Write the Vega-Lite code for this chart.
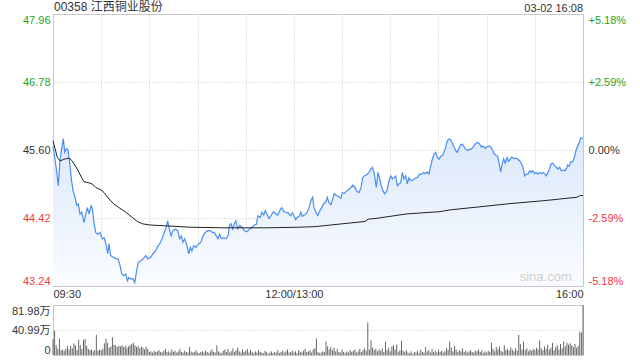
{
  "$schema": "https://vega.github.io/schema/vega-lite/v6.json",
  "padding": {"left": 10, "top": 0, "right": 0, "bottom": 0},
  "background": "white",
  "bounds": "flush",
  "spacing": 19,
  "config": {
    "view": {"stroke": "#c8c8c8"},
    "font": "Liberation Sans",
    "axis": {"domain": false, "ticks": false, "gridColor": "#c8c8c8", "gridDash": [1, 2], "labelFont": "Liberation Sans, Noto Sans CJK SC", "labelFontSize": 11, "title": null}
  },
  "datasets": {
    "price": [
      {"m":0,"p":45.67},{"m":2.1,"p":45.27},{"m":3.3,"p":44.98},{"m":4.4,"p":45.44},{"m":5.4,"p":45.62},{"m":6.4,"p":45.80},{"m":7.3,"p":45.56},{"m":8.3,"p":45.62},{"m":9.3,"p":45.61},{"m":10.4,"p":45.38},{"m":11.4,"p":45.10},{"m":12.5,"p":44.89},{"m":13.7,"p":44.78},{"m":14.8,"p":44.64},{"m":15.8,"p":44.66},{"m":16.8,"p":44.49},{"m":17.9,"p":44.52},{"m":19.3,"p":44.34},{"m":20.4,"p":44.49},{"m":21.4,"p":44.60},{"m":22.4,"p":44.49},{"m":23.7,"p":44.63},{"m":24.5,"p":44.58},{"m":25.5,"p":44.34},{"m":26.6,"p":44.17},{"m":28.0,"p":44.14},{"m":29.3,"p":44.17},{"m":30.7,"p":44.06},{"m":31.8,"p":44.08},{"m":33.2,"p":43.94},{"m":34.1,"p":43.80},{"m":34.9,"p":43.97},{"m":35.9,"p":43.77},{"m":37.4,"p":43.74},{"m":39.0,"p":43.72},{"m":40.5,"p":43.71},{"m":41.7,"p":43.60},{"m":42.8,"p":43.45},{"m":44.2,"p":43.42},{"m":45.3,"p":43.45},{"m":46.3,"p":43.33},{"m":47.3,"p":43.39},{"m":48.4,"p":43.36},{"m":49.8,"p":43.37},{"m":50.9,"p":43.30},{"m":51.9,"p":43.48},{"m":53.1,"p":43.65},{"m":54.6,"p":43.68},{"m":56.2,"p":43.71},{"m":57.7,"p":43.77},{"m":59.1,"p":43.71},{"m":60.8,"p":43.74},{"m":62.3,"p":43.80},{"m":63.9,"p":43.85},{"m":65.4,"p":43.94},{"m":66.4,"p":43.97},{"m":67.9,"p":44.06},{"m":69.3,"p":44.17},{"m":70.5,"p":44.26},{"m":71.4,"p":44.37},{"m":72.4,"p":44.23},{"m":73.5,"p":44.11},{"m":74.7,"p":44.20},{"m":76.1,"p":44.23},{"m":77.6,"p":44.20},{"m":78.9,"p":44.06},{"m":79.9,"p":44.11},{"m":80.9,"p":44.00},{"m":82.0,"p":44.06},{"m":83.4,"p":43.94},{"m":84.5,"p":43.80},{"m":85.5,"p":43.91},{"m":86.5,"p":43.85},{"m":87.6,"p":43.94},{"m":89.0,"p":43.91},{"m":90.7,"p":43.97},{"m":92.1,"p":44.00},{"m":93.4,"p":44.11},{"m":94.8,"p":44.17},{"m":96.3,"p":44.20},{"m":97.9,"p":44.20},{"m":99.0,"p":44.17},{"m":100.4,"p":44.17},{"m":101.7,"p":44.11},{"m":102.7,"p":44.06},{"m":103.8,"p":44.14},{"m":104.8,"p":44.06},{"m":106.3,"p":44.08},{"m":107.7,"p":44.06},{"m":109.0,"p":44.11},{"m":109.8,"p":44.29},{"m":110.8,"p":44.32},{"m":111.9,"p":44.23},{"m":112.9,"p":44.32},{"m":113.9,"p":44.37},{"m":115.0,"p":44.23},{"m":116.2,"p":44.29},{"m":117.7,"p":44.26},{"m":119.1,"p":44.20},{"m":120.8,"p":44.18},{"m":122.5,"p":44.23},{"m":123.9,"p":44.26},{"m":125.3,"p":44.30},{"m":126.6,"p":44.31},{"m":127.6,"p":44.46},{"m":129.1,"p":44.43},{"m":130.1,"p":44.52},{"m":131.2,"p":44.47},{"m":132.2,"p":44.55},{"m":133.2,"p":44.49},{"m":134.5,"p":44.41},{"m":135.7,"p":44.46},{"m":137.2,"p":44.53},{"m":138.7,"p":44.49},{"m":139.9,"p":44.47},{"m":141.3,"p":44.55},{"m":142.4,"p":44.60},{"m":143.8,"p":44.53},{"m":144.9,"p":44.52},{"m":146.5,"p":44.51},{"m":148.0,"p":44.46},{"m":149.0,"p":44.51},{"m":150.2,"p":44.45},{"m":151.1,"p":44.39},{"m":152.1,"p":44.43},{"m":153.3,"p":44.45},{"m":154.4,"p":44.52},{"m":155.2,"p":44.45},{"m":156.5,"p":44.47},{"m":158.0,"p":44.51},{"m":159.4,"p":44.60},{"m":160.6,"p":44.72},{"m":161.7,"p":44.78},{"m":162.5,"p":44.60},{"m":163.7,"p":44.52},{"m":164.8,"p":44.46},{"m":166.2,"p":44.55},{"m":167.3,"p":44.60},{"m":168.7,"p":44.68},{"m":169.8,"p":44.69},{"m":170.8,"p":44.78},{"m":171.8,"p":44.69},{"m":173.1,"p":44.65},{"m":174.1,"p":44.75},{"m":175.1,"p":44.84},{"m":176.6,"p":44.81},{"m":178.1,"p":44.79},{"m":179.3,"p":44.76},{"m":180.1,"p":44.86},{"m":181.4,"p":44.85},{"m":182.9,"p":44.89},{"m":184.3,"p":44.92},{"m":185.5,"p":44.95},{"m":186.6,"p":44.99},{"m":188.0,"p":44.95},{"m":189.3,"p":44.88},{"m":190.5,"p":44.86},{"m":191.8,"p":44.95},{"m":192.8,"p":45.12},{"m":193.8,"p":45.15},{"m":195.3,"p":45.17},{"m":196.7,"p":45.21},{"m":198.0,"p":45.27},{"m":198.8,"p":45.30},{"m":199.9,"p":45.21},{"m":201.3,"p":44.95},{"m":202.3,"p":45.21},{"m":203.4,"p":45.10},{"m":204.4,"p":44.98},{"m":205.5,"p":44.89},{"m":206.5,"p":44.84},{"m":207.9,"p":44.89},{"m":209.2,"p":45.07},{"m":210.3,"p":45.15},{"m":211.3,"p":45.10},{"m":212.3,"p":45.12},{"m":213.4,"p":45.15},{"m":214.4,"p":44.98},{"m":215.4,"p":45.01},{"m":216.5,"p":45.03},{"m":217.5,"p":45.21},{"m":218.5,"p":45.10},{"m":219.6,"p":45.15},{"m":220.6,"p":45.01},{"m":221.6,"p":45.12},{"m":222.7,"p":45.07},{"m":224.1,"p":45.08},{"m":225.6,"p":45.11},{"m":226.8,"p":45.12},{"m":228.3,"p":45.18},{"m":229.7,"p":45.18},{"m":230.8,"p":45.21},{"m":232.0,"p":45.19},{"m":233.0,"p":45.22},{"m":234.1,"p":45.18},{"m":235.2,"p":45.33},{"m":236.2,"p":45.44},{"m":237.2,"p":45.53},{"m":238.3,"p":45.56},{"m":239.3,"p":45.47},{"m":240.3,"p":45.44},{"m":241.4,"p":45.49},{"m":242.4,"p":45.50},{"m":243.4,"p":45.56},{"m":244.5,"p":45.65},{"m":245.5,"p":45.76},{"m":246.5,"p":45.79},{"m":247.6,"p":45.78},{"m":248.6,"p":45.72},{"m":249.7,"p":45.65},{"m":250.7,"p":45.59},{"m":251.7,"p":45.56},{"m":252.8,"p":45.63},{"m":253.8,"p":45.69},{"m":254.8,"p":45.70},{"m":255.9,"p":45.66},{"m":256.9,"p":45.61},{"m":257.9,"p":45.59},{"m":259.0,"p":45.61},{"m":260.4,"p":45.61},{"m":261.5,"p":45.65},{"m":262.5,"p":45.69},{"m":263.5,"p":45.72},{"m":264.6,"p":45.73},{"m":265.7,"p":45.70},{"m":266.7,"p":45.65},{"m":267.7,"p":45.67},{"m":269.2,"p":45.63},{"m":270.2,"p":45.66},{"m":271.6,"p":45.67},{"m":272.7,"p":45.65},{"m":273.8,"p":45.59},{"m":274.8,"p":45.53},{"m":275.8,"p":45.51},{"m":276.9,"p":45.49},{"m":277.7,"p":45.38},{"m":278.7,"p":45.22},{"m":279.7,"p":45.36},{"m":280.6,"p":45.45},{"m":281.6,"p":45.37},{"m":282.7,"p":45.47},{"m":283.7,"p":45.40},{"m":284.7,"p":45.44},{"m":285.8,"p":45.48},{"m":286.8,"p":45.45},{"m":288.4,"p":45.46},{"m":289.5,"p":45.44},{"m":290.6,"p":45.41},{"m":291.6,"p":45.37},{"m":292.6,"p":45.30},{"m":293.7,"p":45.15},{"m":294.7,"p":45.18},{"m":295.7,"p":45.18},{"m":296.8,"p":45.24},{"m":297.8,"p":45.21},{"m":298.8,"p":45.24},{"m":299.9,"p":45.19},{"m":300.9,"p":45.21},{"m":302.0,"p":45.18},{"m":303.0,"p":45.21},{"m":304.0,"p":45.19},{"m":305.1,"p":45.21},{"m":306.1,"p":45.19},{"m":307.1,"p":45.15},{"m":308.2,"p":45.21},{"m":309.2,"p":45.28},{"m":310.2,"p":45.36},{"m":311.3,"p":45.37},{"m":312.3,"p":45.33},{"m":313.4,"p":45.30},{"m":314.4,"p":45.27},{"m":315.5,"p":45.30},{"m":316.5,"p":45.24},{"m":317.5,"p":45.25},{"m":318.6,"p":45.24},{"m":319.6,"p":45.27},{"m":320.4,"p":45.34},{"m":321.4,"p":45.32},{"m":322.5,"p":45.40},{"m":323.6,"p":45.40},{"m":324.6,"p":45.47},{"m":325.6,"p":45.59},{"m":326.7,"p":45.67},{"m":327.7,"p":45.73},{"m":328.5,"p":45.81},{"m":330,"p":45.80}
    ],
    "avg": [
      {"m":0,"a":45.76},{"m":2.7,"a":45.47},{"m":4.4,"a":45.41},{"m":6.8,"a":45.44},{"m":10.0,"a":45.46},{"m":12.0,"a":45.41},{"m":15.1,"a":45.27},{"m":18.2,"a":45.10},{"m":19.3,"a":45.05},{"m":22.4,"a":45.03},{"m":24.5,"a":45.01},{"m":26.6,"a":44.95},{"m":29.7,"a":44.91},{"m":31.8,"a":44.86},{"m":34.9,"a":44.75},{"m":38.0,"a":44.66},{"m":41.1,"a":44.60},{"m":45.3,"a":44.52},{"m":49.4,"a":44.43},{"m":52.5,"a":44.36},{"m":55.6,"a":44.32},{"m":59.8,"a":44.30},{"m":66.0,"a":44.29},{"m":85.5,"a":44.26},{"m":106.3,"a":44.25},{"m":133.2,"a":44.25},{"m":152.7,"a":44.26},{"m":163.1,"a":44.27},{"m":173.5,"a":44.30},{"m":183.9,"a":44.33},{"m":194.3,"a":44.36},{"m":196.3,"a":44.40},{"m":200.5,"a":44.41},{"m":220.0,"a":44.49},{"m":240.8,"a":44.53},{"m":247.0,"a":44.56},{"m":267.7,"a":44.62},{"m":284.7,"a":44.67},{"m":305.5,"a":44.72},{"m":326.2,"a":44.78},{"m":328.3,"a":44.81},{"m":330,"a":44.81}
    ],
    "vol": [
      {"m":0,"v":26},{"m":1,"v":40},{"m":2,"v":16},{"m":3,"v":10},{"m":4,"v":27},{"m":5,"v":8},{"m":6,"v":9},{"m":7,"v":7},{"m":8,"v":10},{"m":9,"v":15},{"m":10,"v":9},{"m":11,"v":15},{"m":12,"v":11},{"m":13,"v":19},{"m":14,"v":16},{"m":15,"v":8},{"m":16,"v":25},{"m":17,"v":16},{"m":18,"v":10},{"m":19,"v":25},{"m":20,"v":26},{"m":21,"v":15},{"m":22,"v":10},{"m":23,"v":8},{"m":24,"v":9},{"m":25,"v":6},{"m":26,"v":8},{"m":27,"v":33},{"m":28,"v":7},{"m":29,"v":9},{"m":30,"v":8},{"m":31,"v":10},{"m":32,"v":19},{"m":33,"v":27},{"m":34,"v":20},{"m":35,"v":12},{"m":36,"v":14},{"m":37,"v":29},{"m":38,"v":17},{"m":39,"v":16},{"m":40,"v":13},{"m":41,"v":15},{"m":42,"v":14},{"m":43,"v":16},{"m":44,"v":13},{"m":45,"v":15},{"m":46,"v":12},{"m":47,"v":14},{"m":48,"v":16},{"m":49,"v":18},{"m":50,"v":20},{"m":51,"v":16},{"m":52,"v":13},{"m":53,"v":15},{"m":54,"v":11},{"m":55,"v":14},{"m":56,"v":12},{"m":57,"v":9},{"m":58,"v":13},{"m":59,"v":10},
      {"m":60,"v":5},{"m":61,"v":6},{"m":62,"v":4},{"m":63,"v":7},{"m":64,"v":5},{"m":65,"v":6},{"m":66,"v":8},{"m":67,"v":5},{"m":68,"v":4},{"m":69,"v":7},{"m":70,"v":10},{"m":71,"v":5},{"m":72,"v":6},{"m":73,"v":4},{"m":74,"v":9},{"m":75,"v":5},{"m":76,"v":7},{"m":77,"v":4},{"m":78,"v":6},{"m":79,"v":10},{"m":80,"v":5},{"m":81,"v":4},{"m":82,"v":7},{"m":83,"v":5},{"m":84,"v":4},{"m":85,"v":13},{"m":86,"v":6},{"m":87,"v":4},{"m":88,"v":5},{"m":89,"v":8},{"m":90,"v":4},{"m":91,"v":3},{"m":92,"v":5},{"m":93,"v":6},{"m":94,"v":4},{"m":95,"v":7},{"m":96,"v":5},{"m":97,"v":3},{"m":98,"v":6},{"m":99,"v":9},{"m":100,"v":5},{"m":101,"v":4},{"m":102,"v":16},{"m":103,"v":6},{"m":104,"v":4},{"m":105,"v":3},{"m":106,"v":7},{"m":107,"v":9},{"m":108,"v":5},{"m":109,"v":10},{"m":110,"v":4},{"m":111,"v":6},{"m":112,"v":11},{"m":113,"v":5},{"m":114,"v":8},{"m":115,"v":12},{"m":116,"v":6},{"m":117,"v":4},{"m":118,"v":9},{"m":119,"v":5},
      {"m":120,"v":7},{"m":121,"v":10},{"m":122,"v":4},{"m":123,"v":8},{"m":124,"v":5},{"m":125,"v":3},{"m":126,"v":6},{"m":127,"v":4},{"m":128,"v":8},{"m":129,"v":5},{"m":130,"v":4},{"m":131,"v":3},{"m":132,"v":7},{"m":133,"v":5},{"m":134,"v":2},{"m":135,"v":4},{"m":136,"v":6},{"m":137,"v":3},{"m":138,"v":5},{"m":139,"v":4},{"m":140,"v":8},{"m":141,"v":3},{"m":142,"v":5},{"m":143,"v":7},{"m":144,"v":4},{"m":145,"v":6},{"m":146,"v":9},{"m":147,"v":4},{"m":148,"v":5},{"m":149,"v":7},{"m":150,"v":4},{"m":151,"v":6},{"m":152,"v":3},{"m":153,"v":8},{"m":154,"v":5},{"m":155,"v":4},{"m":156,"v":7},{"m":157,"v":10},{"m":158,"v":5},{"m":159,"v":6},{"m":160,"v":8},{"m":161,"v":4},{"m":162,"v":9},{"m":163,"v":11},{"m":164,"v":27},{"m":165,"v":5},{"m":166,"v":3},{"m":167,"v":4},{"m":168,"v":6},{"m":169,"v":5},{"m":170,"v":22},{"m":171,"v":14},{"m":172,"v":9},{"m":173,"v":13},{"m":174,"v":8},{"m":175,"v":12},{"m":176,"v":6},{"m":177,"v":10},{"m":178,"v":5},{"m":179,"v":4},
      {"m":180,"v":9},{"m":181,"v":5},{"m":182,"v":3},{"m":183,"v":6},{"m":184,"v":4},{"m":185,"v":8},{"m":186,"v":5},{"m":187,"v":7},{"m":188,"v":9},{"m":189,"v":4},{"m":190,"v":6},{"m":191,"v":10},{"m":192,"v":5},{"m":193,"v":8},{"m":194,"v":11},{"m":195,"v":7},{"m":196,"v":53},{"m":197,"v":9},{"m":198,"v":24},{"m":199,"v":12},{"m":200,"v":8},{"m":201,"v":10},{"m":202,"v":6},{"m":203,"v":9},{"m":204,"v":7},{"m":205,"v":11},{"m":206,"v":5},{"m":207,"v":22},{"m":208,"v":8},{"m":209,"v":12},{"m":210,"v":6},{"m":211,"v":14},{"m":212,"v":16},{"m":213,"v":9},{"m":214,"v":17},{"m":215,"v":5},{"m":216,"v":8},{"m":217,"v":23},{"m":218,"v":7},{"m":219,"v":5},{"m":220,"v":8},{"m":221,"v":4},{"m":222,"v":3},{"m":223,"v":6},{"m":224,"v":2},{"m":225,"v":5},{"m":226,"v":4},{"m":227,"v":7},{"m":228,"v":3},{"m":229,"v":9},{"m":230,"v":5},{"m":231,"v":4},{"m":232,"v":13},{"m":233,"v":6},{"m":234,"v":8},{"m":235,"v":4},{"m":236,"v":10},{"m":237,"v":5},{"m":238,"v":7},{"m":239,"v":4},
      {"m":240,"v":9},{"m":241,"v":5},{"m":242,"v":7},{"m":243,"v":4},{"m":244,"v":6},{"m":245,"v":11},{"m":246,"v":8},{"m":247,"v":22},{"m":248,"v":12},{"m":249,"v":6},{"m":250,"v":15},{"m":251,"v":9},{"m":252,"v":5},{"m":253,"v":8},{"m":254,"v":6},{"m":255,"v":11},{"m":256,"v":5},{"m":257,"v":7},{"m":258,"v":4},{"m":259,"v":6},{"m":260,"v":8},{"m":261,"v":5},{"m":262,"v":4},{"m":263,"v":7},{"m":264,"v":6},{"m":265,"v":9},{"m":266,"v":5},{"m":267,"v":8},{"m":268,"v":3},{"m":269,"v":6},{"m":270,"v":4},{"m":271,"v":7},{"m":272,"v":5},{"m":273,"v":20},{"m":274,"v":10},{"m":275,"v":6},{"m":276,"v":13},{"m":277,"v":9},{"m":278,"v":14},{"m":279,"v":7},{"m":280,"v":5},{"m":281,"v":16},{"m":282,"v":8},{"m":283,"v":10},{"m":284,"v":7},{"m":285,"v":12},{"m":286,"v":9},{"m":287,"v":6},{"m":288,"v":11},{"m":289,"v":7},{"m":290,"v":33},{"m":291,"v":18},{"m":292,"v":9},{"m":293,"v":22},{"m":294,"v":8},{"m":295,"v":11},{"m":296,"v":6},{"m":297,"v":9},{"m":298,"v":7},{"m":299,"v":10},
      {"m":300,"v":8},{"m":301,"v":12},{"m":302,"v":9},{"m":303,"v":24},{"m":304,"v":11},{"m":305,"v":8},{"m":306,"v":14},{"m":307,"v":10},{"m":308,"v":17},{"m":309,"v":9},{"m":310,"v":12},{"m":311,"v":20},{"m":312,"v":8},{"m":313,"v":13},{"m":314,"v":16},{"m":315,"v":9},{"m":316,"v":18},{"m":317,"v":11},{"m":318,"v":22},{"m":319,"v":14},{"m":320,"v":20},{"m":321,"v":17},{"m":322,"v":19},{"m":323,"v":16},{"m":324,"v":13},{"m":325,"v":18},{"m":326,"v":12},{"m":327,"v":15},{"m":328,"v":38},{"m":329,"v":37},{"m":330,"v":82}
    ],
    "titleText": [{"t": "00358 江西铜业股份"}],
    "notes": [{"t": "03-02 16:08"}],
    "mark": [{"t": "sina.com"}]
  },
  "vconcat": [
    {
      "width": 530,
      "height": 272,
      "layer": [
        {
          "data": {"name": "price"},
          "mark": {"type": "area", "color": {"gradient": "linear", "x1": 0, "y1": 0, "x2": 0, "y2": 1, "stops": [{"offset": 0, "color": "#dce8fb"}, {"offset": 1, "color": "#fafcff"}]}},
          "encoding": {
            "x": {"field": "m", "type": "quantitative", "scale": {"domain": [0, 330], "nice": false, "zero": false},
              "axis": {"values": [0, 30, 60, 90, 120, 150, 180, 210, 240, 270, 300, 330], "labelFlush": true, "labelOverlap": false, "labelPadding": 2, "labelColor": "#333", "labelExpr": "datum.value == 0 ? '09:30' : datum.value == 150 ? '12:00/13:00' : datum.value == 330 ? '16:00' : ''", "title": null}},
            "y": {"field": "p", "type": "quantitative", "scale": {"domain": [43.24, 47.96], "nice": false, "zero": false},
              "axis": {"values": [43.24, 44.42, 45.6, 46.78, 47.96], "labelFlush": true, "labelPadding": 3, "labelExpr": "format(datum.value, '.2f')",
                "labelColor": {"condition": [{"test": "datum.value > 45.61", "value": "#1ea51e"}, {"test": "datum.value < 45.59", "value": "#f03c3c"}], "value": "#333333"}}},
            "y2": {"datum": 43.24}
          }
        },
        {
          "data": {"name": "price"},
          "mark": {"type": "line", "color": "#4a8ff0", "strokeWidth": 1.2},
          "encoding": {
            "x": {"field": "m", "type": "quantitative"},
            "y": {"field": "p", "type": "quantitative", "axis": null}
          }
        },
        {
          "data": {"name": "avg"},
          "mark": {"type": "line", "color": "#222222", "strokeWidth": 1},
          "encoding": {
            "x": {"field": "m", "type": "quantitative"},
            "y": {"field": "a", "type": "quantitative",
              "axis": {"orient": "right", "grid": false, "values": [43.24, 44.42, 45.6, 46.78, 47.96], "labelFlush": true, "labelPadding": 5,
                "labelExpr": "abs(datum.value - 45.6) < 0.005 ? '0.00%' : ((datum.value > 45.6 ? '+' : '-') + format(abs(datum.value - 45.6) / 45.6 * 100, '.2f') + '%')",
                "labelColor": {"condition": [{"test": "datum.value > 45.61", "value": "#1ea51e"}, {"test": "datum.value < 45.59", "value": "#f03c3c"}], "value": "#333333"}}}
          }
        },
        {
          "data": {"name": "titleText"},
          "mark": {"type": "text", "align": "left", "baseline": "bottom", "dy": 0, "dx": 1, "fontSize": 12, "color": "#333333", "font": "Liberation Sans, Noto Sans CJK SC"},
          "encoding": {"x": {"datum": 0, "type": "quantitative"}, "y": {"datum": 47.96, "type": "quantitative", "axis": null}, "text": {"field": "t", "type": "nominal"}}
        },
        {
          "data": {"name": "notes"},
          "mark": {"type": "text", "align": "right", "baseline": "bottom", "dy": 0, "fontSize": 11, "color": "#333333"},
          "encoding": {"x": {"datum": 330, "type": "quantitative"}, "y": {"datum": 47.96, "type": "quantitative", "axis": null}, "text": {"field": "t", "type": "nominal"}}
        },
        {
          "data": {"name": "mark"},
          "mark": {"type": "text", "align": "right", "baseline": "bottom", "dy": -2, "fontSize": 13, "color": "#cfcfcf"},
          "encoding": {"x": {"datum": 323, "type": "quantitative"}, "y": {"datum": 43.24, "type": "quantitative", "axis": null}, "text": {"field": "t", "type": "nominal"}}
        }
      ],
      "resolve": {"axis": {"y": "independent"}}
    },
    {
      "width": 530,
      "height": 50,
      "data": {"name": "vol"},
      "mark": {"type": "rule", "color": "#666666", "strokeWidth": 1},
      "encoding": {
        "x": {"field": "m", "type": "quantitative", "scale": {"domain": [0, 330], "nice": false, "zero": false}, "axis": null},
        "y": {"field": "v", "type": "quantitative", "scale": {"domain": [0, 81.98], "nice": false},
          "axis": {"values": [0, 40.99, 81.98], "labelFlush": true, "labelPadding": 3, "labelColor": "#333", "labelExpr": "datum.value == 0 ? '0' : format(datum.value, '.2f') + '万'"}},
        "y2": {"datum": 0}
      }
    }
  ]
}
